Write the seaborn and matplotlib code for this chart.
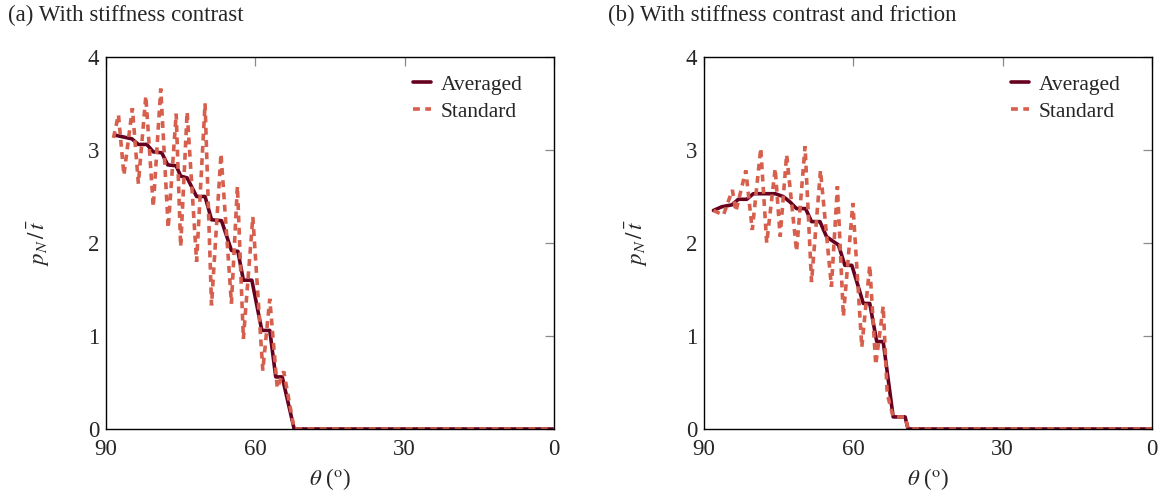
import numpy as np
import pandas as pd
import matplotlib
matplotlib.use('Agg')
import matplotlib.pyplot as plt
import seaborn as sns

# (a) with stiffness contrast
theta_avg_a = [88.2, 84.8, 83.5, 81.8, 80.5, 78.8, 77.6, 75.9, 75.0, 73.7, 71.8, 70.1,
               68.8, 66.8, 64.8, 63.5, 62.4, 60.7, 58.7, 57.1, 55.9, 54.6, 52.2, 0.0]
p_avg_a = [3.16, 3.12, 3.06, 3.06, 2.98, 2.97, 2.84, 2.83, 2.72, 2.70, 2.50, 2.50,
           2.25, 2.24, 1.92, 1.91, 1.60, 1.60, 1.06, 1.06, 0.56, 0.56, 0.0, 0.0]
theta_std_a = [88.5, 87.5, 86.4, 84.7, 83.5, 82.0, 80.5, 79.0, 77.5, 75.9, 75.0, 73.7,
               71.8, 70.1, 68.8, 66.9, 64.8, 63.6, 62.4, 60.5, 58.5, 57.1, 55.6, 54.3,
               52.2, 0.0]
p_std_a = [3.13, 3.38, 2.73, 3.45, 2.64, 3.58, 2.39, 3.66, 2.16, 3.39, 1.96, 3.41,
           1.80, 3.50, 1.33, 2.96, 1.35, 2.61, 0.97, 2.28, 0.63, 1.40, 0.44, 0.62,
           0.0, 0.0]

# (b) with stiffness contrast and friction
theta_avg_b = [88.1, 86.4, 84.4, 83.1, 81.4, 80.1, 75.7, 74.1, 72.7, 71.4, 69.6, 68.4,
               66.7, 65.4, 64.4, 63.0, 61.7, 60.3, 59.0, 58.0, 56.7, 55.3, 54.0, 52.0,
               49.6, 49.0, 0.0]
p_avg_b = [2.35, 2.39, 2.41, 2.47, 2.47, 2.53, 2.53, 2.50, 2.44, 2.37, 2.37, 2.23,
           2.23, 2.07, 2.03, 1.98, 1.76, 1.76, 1.53, 1.35, 1.35, 0.94, 0.94, 0.13,
           0.13, 0.0, 0.0]
theta_std_b = [88.1, 86.1, 84.3, 83.6, 81.6, 80.3, 78.6, 77.4, 75.7, 74.7, 73.4, 71.4,
               69.7, 68.4, 66.6, 64.4, 63.2, 62.0, 60.1, 58.3, 56.7, 55.5, 54.0, 53.2,
               52.0, 49.6, 49.0, 0.0]
p_std_b = [2.35, 2.30, 2.57, 2.34, 2.78, 2.14, 3.02, 2.00, 2.80, 2.07, 2.95, 1.91,
           3.04, 1.58, 2.78, 1.53, 2.61, 1.21, 2.43, 0.88, 1.76, 0.69, 1.32, 0.38,
           0.13, 0.13, 0.0, 0.0]

titles = ['(a) With stiffness contrast', '(b) With stiffness contrast and friction']
x_ticks = [90, 60, 30, 0]
y_ticks = [0, 1, 2, 3, 4]

sns.set_theme(style='white')
plt.rcParams['font.family'] = ['Liberation Serif', 'DejaVu Serif']
plt.rcParams['mathtext.fontset'] = 'stix'
plt.rcParams['font.size'] = 16

c_avg = '#67001f'
c_std = '#d6604d'

fig = plt.figure(figsize=(11.69, 5.01), dpi=100)
ax_a = fig.add_axes([106 / 1169, 72 / 501, 448 / 1169, 372 / 501])
ax_b = fig.add_axes([704 / 1169, 72 / 501, 448 / 1169, 372 / 501])

panels = [
    (ax_a, theta_avg_a, p_avg_a, theta_std_a, p_std_a),
    (ax_b, theta_avg_b, p_avg_b, theta_std_b, p_std_b),
]

for ax, ta, pa, ts, ps in panels:
    df_avg = pd.DataFrame({'theta': ta, 'p': pa})
    df_std = pd.DataFrame({'theta': ts, 'p': ps})
    sns.lineplot(data=df_avg, x='theta', y='p', ax=ax, color=c_avg, lw=2.6,
                 sort=False, estimator=None, label='Averaged')
    sns.lineplot(data=df_std, x='theta', y='p', ax=ax, color=c_std, lw=2.6,
                 sort=False, estimator=None, label='Standard',
                 linestyle=(0, (1.9, 1.5)), dash_joinstyle='miter')
    ax.set_xlim(90, 0)
    ax.set_ylim(0, 4)
    ax.set_xticks(x_ticks)
    ax.set_yticks(y_ticks)
    ax.tick_params(direction='in', length=6.5, width=0.9, color='#8a8a8a',
                   top=True, right=True, labelsize=16.5)
    ax.tick_params(axis='x', pad=7)
    ax.tick_params(axis='y', pad=5)
    for s in ax.spines.values():
        s.set_color('black')
        s.set_linewidth(1.0)
    ax.set_xlabel(r'$\theta$ ($^{\mathrm{o}}$)', fontsize=16.5)
    ax.set_ylabel(r'$p_N\,/\,\bar{t}$', fontsize=16.5)
    ax.xaxis.set_label_coords(0.5, -0.10)
    ax.yaxis.set_label_coords(-0.12, 0.5)
    ax.legend(loc='upper right', bbox_to_anchor=(0.95, 0.975), borderaxespad=0,
              frameon=False, fontsize=15.5, handlelength=0.85,
              handletextpad=0.45, labelspacing=0.3)

fig.text(8 / 1169, 1 - 15 / 501, titles[0], fontsize=16.5, va='center', ha='left')
fig.text(608 / 1169, 1 - 15 / 501, titles[1], fontsize=16.5, va='center', ha='left')

fig.savefig('out.png', dpi=100)
